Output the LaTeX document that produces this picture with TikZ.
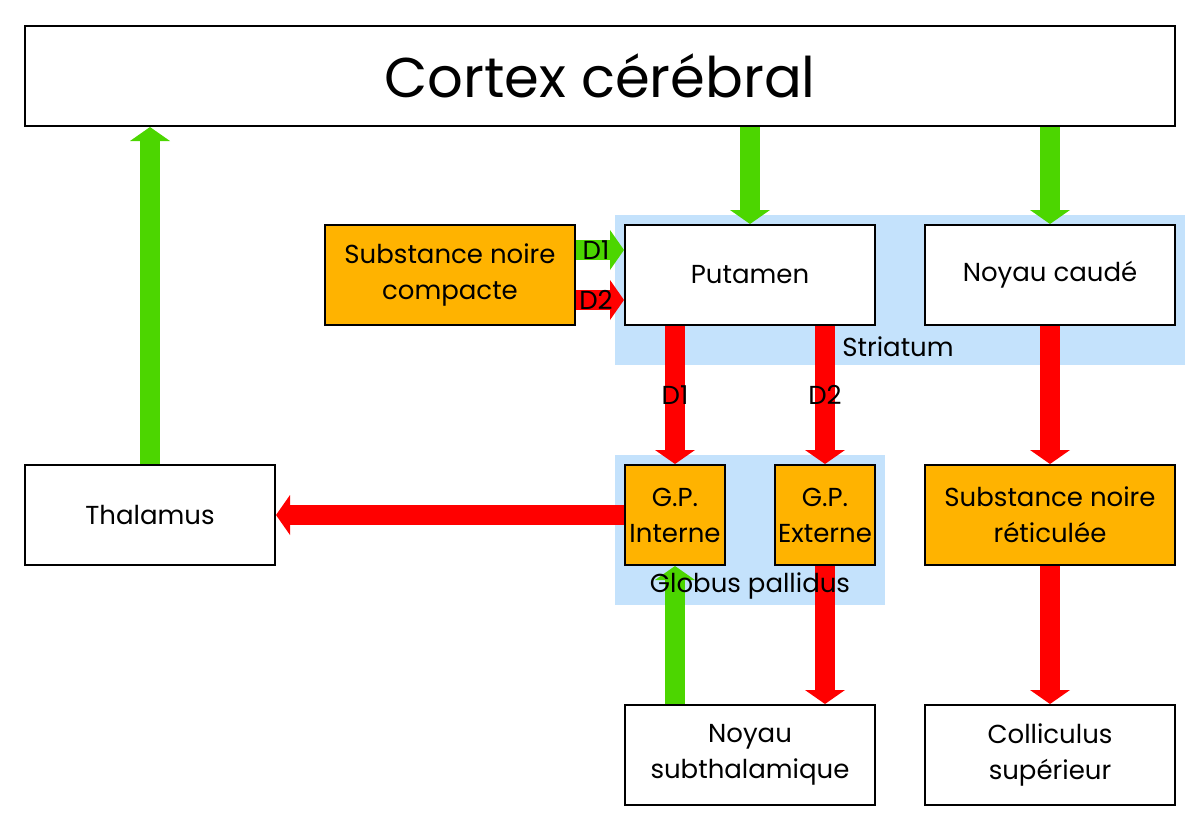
\documentclass[tikz,border=0pt]{standalone}
\usepackage{fontspec}
\setmainfont{Poppins}
\usepackage{tikz}
\usetikzlibrary{arrows.meta,backgrounds}
\definecolor{colorex}{HTML}{4CD600}
\definecolor{colorin}{HTML}{FF0000}
\definecolor{colornuc}{HTML}{FFB300}
\definecolor{colorgrp}{HTML}{C4E2FC}
\tikzset{bx/.style={draw, line width=1pt, fill=white, minimum width=125pt, minimum height=50pt, inner sep=0pt, align=center, font=\fontsize{13}{18}\selectfont}}
\tikzset{bxo/.style={bx, fill=colornuc}}
\tikzset{bxs/.style={bxo, minimum width=50pt}}
\tikzset{grp/.style={fill=colorgrp}}
\tikzset{lbl/.style={inner sep=0pt, text=black, font=\fontsize{13}{18}\selectfont}}
\tikzset{
  edgeex/.style={colorex, line width=10pt, -{Triangle[width=20pt 0, length=7pt 0, line width=0pt 0]}},
  edgein/.style={colorin, line width=10pt, -{Triangle[width=20pt 0, length=7pt 0, line width=0pt 0]}}
}

\begin{document}
\begin{tikzpicture}[x=0.5pt, y=-0.5pt]
\useasboundingbox (0,0) rectangle (1200,830);
% groups
\begin{scope}[on background layer]
\fill[grp] (615,215) rectangle (1185,365);
\fill[grp] (615,455) rectangle (885,605);
\end{scope}
\node[bx, minimum width=575pt, font=\fontsize{28}{34}\selectfont] (cortex) at (600,76) {Cortex cérébral};
\node[bx] (thal) at (150,515) {Thalamus};
\node[bxo] (snc) at (450,275) {Substance noire\\compacte};
\node[bx] (put) at (750,275) {Putamen};
\node[bx] (caude) at (1050,275) {Noyau caudé};
\node[bxs] (gpi) at (675,515) {G.P.\\Interne};
\node[bxs] (gpe) at (825,515) {G.P.\\Externe};
\node[bxo] (snr) at (1050,515) {Substance noire\\réticulée};
\node[bx] (stn) at (750,755) {Noyau\\subthalamique};
\node[bx] (coll) at (1050,755) {Colliculus\\supérieur};
% connections
\draw[edgeex] (thal.north) -- (thal.north |- cortex.south);
\draw[edgeex] (cortex.south -| put.north) -- (put.north);
\draw[edgeex] (cortex.south -| caude.north) -- (caude.north);
\draw[edgeex] ([yshift=12.5pt]snc.east) -- node[lbl, xshift=-2pt] {D1} ([yshift=12.5pt]put.west);
\draw[edgein] ([yshift=-12.5pt]snc.east) -- node[lbl, xshift=-2pt] {D2} ([yshift=-12.5pt]put.west);
\draw[edgein] (gpi.north |- put.south) -- node[lbl] {D1} (gpi.north);
\draw[edgein] (gpe.north |- put.south) -- node[lbl] {D2} (gpe.north);
\draw[edgein] (gpi.west) -- (thal.east);
\draw[edgeex] (gpi.south |- stn.north) -- (gpi.south);
\draw[edgein] (gpe.south) -- (gpe.south |- stn.north);
\draw[edgein] (caude.south) -- (snr.north);
\draw[edgein] (snr.south) -- (coll.north);
\node[lbl] (strlbl) at (898,347) {Striatum};
\node[lbl] (gplbl) at (750,586) {Globus pallidus};
\end{tikzpicture}
\end{document}
